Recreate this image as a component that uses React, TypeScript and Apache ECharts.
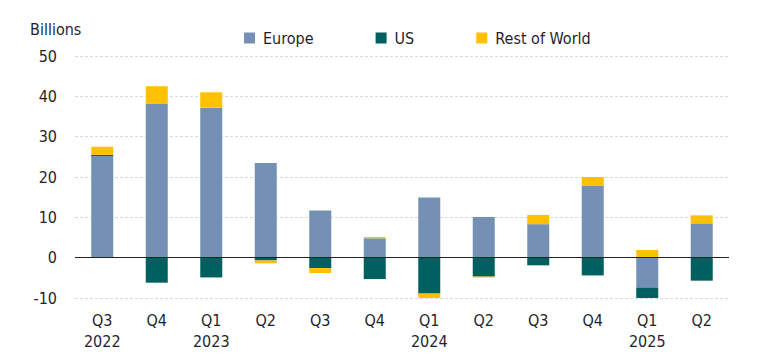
import React, { useEffect, useRef } from "react";
import * as echarts from "echarts";

const quarters = ["Q3\n2022", "Q4", "Q1\n2023", "Q2", "Q3", "Q4", "Q1\n2024", "Q2", "Q3", "Q4", "Q1\n2025", "Q2"];
const europe = [25.2, 38.2, 37.2, 23.5, 11.7, 4.8, 14.9, 10.1, 8.3, 17.9, -7.4, 8.5];
const us = [0.3, -6.2, -4.9, -0.7, -2.6, -5.3, -8.9, -4.7, -1.9, -4.4, -2.9, -5.7];
const restOfWorld = [2.0, 4.3, 3.8, -0.7, -1.2, 0.3, -1.4, -0.2, 2.3, 2.1, 1.9, 2.0];
const yTicks = { min: -10, max: 50, interval: 10 };

const FONT = '"Liberation Sans Narrow", "DejaVu Sans Condensed", "Roboto", sans-serif';

export default function App() {
  const ref = useRef<HTMLDivElement>(null);
  useEffect(() => {
    if (!ref.current) return;
    const chart = echarts.init(ref.current, null, { renderer: "svg" });
    const barBase = { type: "bar", stack: "total", barWidth: 22 };
    chart.setOption({
      animation: false,
      textStyle: { fontFamily: FONT },
      grid: { left: 75, right: 31, top: 56, bottom: 56 },
      legend: {
        left: 239,
        top: 25,
        itemWidth: 11,
        itemHeight: 11,
        itemGap: 62,
        icon: "rect",
        textStyle: { fontFamily: FONT, fontSize: 16, color: "#1f1f2e", padding: [0, 0, 0, 3] },
        data: ["Europe", "US", "Rest of World"],
      },
      graphic: [
        {
          type: "text",
          left: 30,
          top: 21,
          style: { text: "Billions", font: `16px ${FONT}`, fill: "#1f1f2e" },
        },
      ],
      xAxis: {
        type: "category",
        data: quarters,
        axisTick: { show: false },
        axisLine: { show: false },
        axisLabel: { fontFamily: FONT, fontSize: 16, color: "#1f1f2e", lineHeight: 21, margin: 12 },
      },
      yAxis: {
        type: "value",
        min: yTicks.min,
        max: yTicks.max,
        interval: yTicks.interval,
        axisLine: { show: false },
        axisTick: { show: false },
        axisLabel: { fontFamily: FONT, fontSize: 16, color: "#1f1f2e", margin: 18 },
        splitLine: { lineStyle: { color: "#d9d9d9", type: [3, 2], width: 1 } },
      },
      series: [
        { ...barBase, name: "Europe", data: europe, itemStyle: { color: "#7490b4" } },
        { ...barBase, name: "US", data: us, itemStyle: { color: "#005f5f" } },
        {
          ...barBase,
          name: "Rest of World",
          data: restOfWorld,
          itemStyle: { color: "#ffc000" },
          markLine: {
            silent: true,
            symbol: "none",
            label: { show: false },
            lineStyle: { color: "#222", type: "solid", width: 1.2 },
            data: [{ yAxis: 0 }],
          },
        },
      ],
    });
    return () => chart.dispose();
  }, []);
  return <div ref={ref} style={{ width: 760, height: 354, position: "absolute", left: 0, top: 0 }} />;
}
